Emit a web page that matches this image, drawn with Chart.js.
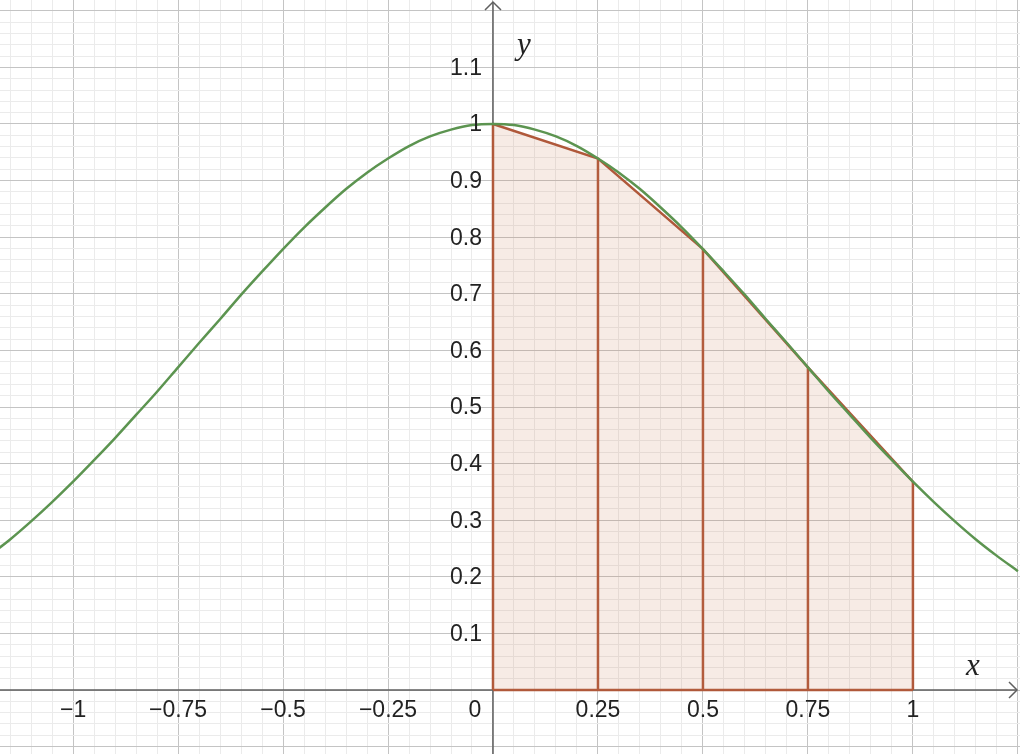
<!DOCTYPE html>
<html>
<head>
<meta charset="utf-8">
<script src="https://cdn.jsdelivr.net/npm/chart.js@4"></script>
<style>
  html, body { margin: 0; padding: 0; background: #ffffff; }
  #wrap { width: 1020px; height: 754px; }
</style>
</head>
<body>
<div id="wrap"><canvas id="chart" width="1020" height="754"></canvas></div>
<script>
// Curve values (y = e^(-x^2))
var curveX = [-1.20, -1.15, -1.10, -1.05, -1.00, -0.95, -0.90, -0.85, -0.80, -0.75,
  -0.70, -0.65, -0.60, -0.55, -0.50, -0.45, -0.40, -0.35, -0.30, -0.25, -0.20, -0.15,
  -0.10, -0.05, 0, 0.05, 0.10, 0.15, 0.20, 0.25, 0.30, 0.35, 0.40, 0.45, 0.50, 0.55,
  0.60, 0.65, 0.70, 0.75, 0.80, 0.85, 0.90, 0.95, 1.00, 1.05, 1.10, 1.15, 1.20, 1.25];
var curveY = [0.237, 0.266, 0.298, 0.332, 0.368, 0.406, 0.445, 0.486, 0.527, 0.570,
  0.613, 0.655, 0.698, 0.739, 0.779, 0.817, 0.852, 0.885, 0.914, 0.939, 0.961, 0.978,
  0.990, 0.998, 1.000, 0.998, 0.990, 0.978, 0.961, 0.939, 0.914, 0.885, 0.852, 0.817, 0.779, 0.739,
  0.698, 0.655, 0.613, 0.570, 0.527, 0.486, 0.445, 0.406, 0.368, 0.332, 0.298, 0.266, 0.237, 0.210];

// Trapezoid nodes
var trapX = [0, 0.25, 0.5, 0.75, 1];
var trapY = [1.000, 0.939, 0.779, 0.570, 0.368];

// Tick labels
var xTickValues = [-1, -0.75, -0.5, -0.25, 0, 0.25, 0.5, 0.75, 1];
var xTickLabels = ['\u22121', '\u22120.75', '\u22120.5', '\u22120.25', '0', '0.25', '0.5', '0.75', '1'];
var yTickValues = [0.1, 0.2, 0.3, 0.4, 0.5, 0.6, 0.7, 0.8, 0.9, 1, 1.1];
var yTickLabels = ['0.1', '0.2', '0.3', '0.4', '0.5', '0.6', '0.7', '0.8', '0.9', '1', '1.1'];

var X_MIN = -1.174, X_MAX = 1.255, Y_MIN = -0.113, Y_MAX = 1.219;

var curvePts = curveX.map(function (x, i) { return {x: x, y: curveY[i]}; });
var topPts = trapX.map(function (x, i) { return {x: x, y: trapY[i]}; });

// vertical sides and bottom edge, broken by gaps
var edgePts = [];
trapX.forEach(function (x, i) {
  edgePts.push({x: x, y: 0}, {x: x, y: trapY[i]}, {x: x, y: null});
});
edgePts.push({x: trapX[0], y: 0}, {x: trapX[trapX.length - 1], y: 0});

function minorTicks(scale, step) {
  var ticks = [];
  var start = Math.ceil(scale.min / step);
  var end = Math.floor(scale.max / step);
  for (var k = start; k <= end; k++) {
    ticks.push({value: +(k * step).toFixed(4)});
  }
  scale.ticks = ticks;
}

function isMajor(v, step) {
  var r = v / step;
  return Math.abs(r - Math.round(r)) < 1e-6;
}

var axesPlugin = {
  id: 'axesPlugin',
  beforeDatasetsDraw: function (chart) {
    var ctx = chart.ctx;
    var xs = chart.scales.x, ys = chart.scales.y;
    var x0 = xs.getPixelForValue(0), y0 = ys.getPixelForValue(0);
    ctx.save();
    ctx.strokeStyle = '#5f5f5f';
    ctx.lineWidth = 1.5;
    ctx.beginPath();
    ctx.moveTo(x0, chart.height);
    ctx.lineTo(x0, 3);
    ctx.moveTo(0, y0);
    ctx.lineTo(chart.width - 3, y0);
    ctx.stroke();
    // arrows
    ctx.beginPath();
    ctx.moveTo(x0 - 8, 10);
    ctx.lineTo(x0, 2);
    ctx.lineTo(x0 + 8, 10);
    ctx.moveTo(chart.width - 11, y0 - 8);
    ctx.lineTo(chart.width - 3, y0);
    ctx.lineTo(chart.width - 11, y0 + 8);
    ctx.stroke();
    ctx.restore();
  },
  afterDatasetsDraw: function (chart) {
    var ctx = chart.ctx;
    var xs = chart.scales.x, ys = chart.scales.y;
    var x0 = xs.getPixelForValue(0), y0 = ys.getPixelForValue(0);
    ctx.save();
    ctx.fillStyle = '#222222';
    ctx.font = '23px "Liberation Sans", Arial, sans-serif';
    ctx.textBaseline = 'middle';
    ctx.textAlign = 'center';
    xTickValues.forEach(function (v, i) {
      var px = xs.getPixelForValue(v);
      if (v === 0) px = x0 - 18;
      ctx.fillText(xTickLabels[i], px, y0 + 21);
    });
    ctx.textAlign = 'right';
    yTickValues.forEach(function (v, i) {
      ctx.fillText(yTickLabels[i], x0 - 11, ys.getPixelForValue(v) + 1);
    });
    ctx.font = 'italic 31px "Liberation Serif", "DejaVu Serif", serif';
    ctx.textAlign = 'center';
    ctx.fillText('y', x0 + 31, 46);
    ctx.fillText('x', chart.width - 47, y0 - 23);
    ctx.restore();
  }
};

var ctx = document.getElementById('chart');
var chart = new Chart(ctx, {
  type: 'scatter',
  data: {
    datasets: [
      {
        data: curvePts,
        showLine: true,
        borderColor: '#5c9450',
        borderWidth: 2.5,
        pointRadius: 0,
        tension: 0.4,
        cubicInterpolationMode: 'monotone',
        fill: false,
        order: 0
      },
      {
        data: topPts,
        showLine: true,
        borderColor: '#b0583a',
        borderWidth: 2.5,
        backgroundColor: 'rgba(204, 120, 80, 0.15)',
        pointRadius: 0,
        tension: 0,
        fill: 'origin',
        order: 1
      },
      {
        data: edgePts,
        showLine: true,
        spanGaps: false,
        borderColor: '#b0583a',
        borderWidth: 2.5,
        pointRadius: 0,
        tension: 0,
        fill: false,
        order: 2
      }
    ]
  },
  options: {
    responsive: false,
    animation: false,
    devicePixelRatio: 1,
    layout: {padding: 0},
    plugins: {legend: {display: false}, tooltip: {enabled: false}},
    scales: {
      x: {
        type: 'linear',
        min: X_MIN,
        max: X_MAX,
        afterBuildTicks: function (scale) { minorTicks(scale, 0.05); },
        ticks: {display: false},
        border: {display: false},
        grid: {
          drawTicks: false,
          lineWidth: 1,
          color: function (c) {
            return isMajor(c.tick.value, 0.25) ? '#c4c4c4' : '#ebebeb';
          }
        }
      },
      y: {
        type: 'linear',
        min: Y_MIN,
        max: Y_MAX,
        afterBuildTicks: function (scale) { minorTicks(scale, 0.02); },
        ticks: {display: false},
        border: {display: false},
        grid: {
          drawTicks: false,
          lineWidth: 1,
          color: function (c) {
            return isMajor(c.tick.value, 0.1) ? '#c4c4c4' : '#ebebeb';
          }
        }
      }
    }
  },
  plugins: [axesPlugin]
});
</script>
</body>
</html>
